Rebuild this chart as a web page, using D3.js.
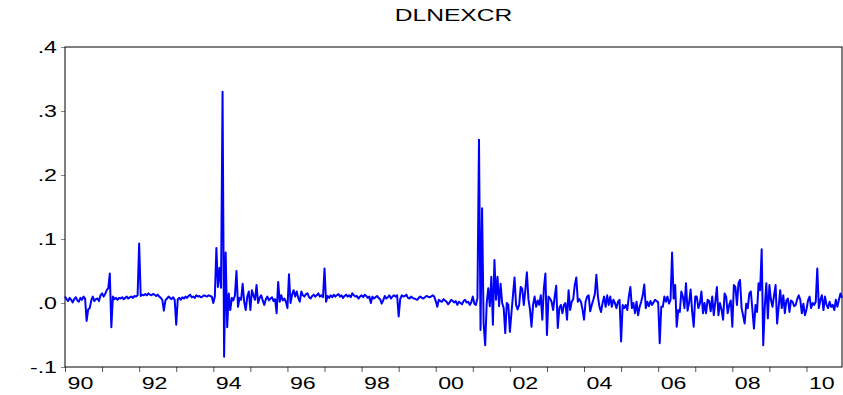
<!DOCTYPE html>
<html>
<head>
<meta charset="utf-8">
<script src="https://cdn.jsdelivr.net/npm/d3@7"></script>
<style>
  body { margin: 0; background: #fff; }
  text { font-family: Arial, "Liberation Sans", sans-serif; fill: #000; }
</style>
</head>
<body>
<div id="chart"></div>
<script>
// two observations per month, one row per year
const startYear = 1990;
const perYear = 24;
const dln1990s = [
  0.010, 0.006, 0.003, 0.008, 0.005, 0.001, 0.006, 0.009, 0.004, 0.002, 0.008, 0.005, 0.010, 0.007, -0.028, -0.010, -0.008, 0.004, 0.010, 0.003, 0.006, 0.007, 0.003, 0.012,
  0.015, 0.010, 0.014, 0.020, 0.023, 0.046, -0.038, 0.010, 0.006, 0.008, 0.005, 0.008, 0.007, 0.009, 0.006, 0.008, 0.010, 0.007, 0.009, 0.010, 0.008, 0.011, 0.010, 0.012,
  0.093, 0.011, 0.013, 0.012, 0.014, 0.012, 0.015, 0.013, 0.012, 0.014, 0.013, 0.011, 0.013, 0.010, 0.008, 0.005, -0.012, 0.004, 0.007, 0.010, 0.008, 0.006, 0.009, 0.005,
  -0.034, 0.006, 0.008, 0.005, 0.009, 0.007, 0.010, 0.008, 0.011, 0.013, 0.009, 0.010, 0.008, 0.012, 0.010, 0.011, 0.009, 0.010, 0.012, 0.011, 0.010, 0.012, 0.011, 0.010,
  0.000, 0.010, 0.086, 0.025, 0.055, 0.024, 0.330, -0.084, 0.079, -0.038, 0.015, -0.011, 0.008, 0.004, 0.012, 0.050, -0.006, 0.008, 0.005, 0.030, 0.002, -0.011, 0.010, 0.018,
  -0.011, 0.020, 0.012, 0.005, 0.028, 0.000, 0.008, 0.012, 0.004, -0.003, 0.006, 0.010, 0.004, 0.007, 0.009, 0.003, 0.006, -0.016, 0.033, 0.002, 0.012, 0.004, 0.007, 0.002,
  -0.008, 0.045, 0.000, 0.013, 0.020, 0.010, 0.018, 0.008, 0.002, 0.018, 0.012, 0.010, 0.014, 0.015, 0.009, 0.007, 0.011, 0.013, 0.010, 0.012, 0.015, 0.010, 0.012, 0.009,
  0.054, 0.002, 0.011, 0.008, 0.012, 0.009, 0.013, 0.010, 0.012, 0.014, 0.010, 0.012, 0.008, 0.011, 0.013, 0.010, 0.012, 0.009, 0.015, 0.012, 0.010, 0.011, 0.007, 0.010,
  0.012, 0.009, 0.013, 0.011, 0.008, 0.010, 0.000, 0.010, 0.007, 0.009, 0.011, 0.008, 0.006, -0.001, 0.004, 0.011, 0.007, 0.009, 0.012, 0.007, 0.010, 0.012, 0.010, 0.012,
  -0.021, 0.006, 0.012, 0.010, 0.011, 0.013, 0.008, 0.007, 0.010, 0.008, 0.007, 0.006, 0.005, 0.008, 0.010, 0.008, 0.007, 0.009, 0.011, 0.010, 0.009, 0.010, 0.012, 0.010
];
const dln2000s = [
  0.003, -0.006, 0.005, 0.003, 0.002, 0.006, 0.004, 0.002, -0.002, 0.001, 0.005, 0.003, 0.001, 0.003, -0.003, 0.002, 0.000, -0.002, 0.003, 0.005, 0.001, 0.002, -0.003, 0.001,
  0.010, -0.001, -0.003, 0.008, 0.255, -0.042, 0.148, -0.032, -0.066, 0.000, 0.023, -0.005, 0.041, -0.034, 0.067, 0.005, 0.041, -0.005, 0.030, 0.000, -0.008, -0.047, 0.000, -0.003,
  -0.045, -0.016, 0.012, 0.040, -0.003, -0.010, -0.003, 0.025, 0.022, -0.003, 0.020, 0.048, 0.006, -0.010, -0.037, -0.003, 0.010, -0.006, 0.004, -0.003, 0.012, -0.026, 0.023, 0.046,
  -0.050, 0.010, 0.007, 0.002, -0.011, 0.010, 0.027, -0.039, -0.008, -0.003, -0.016, -0.003, 0.000, -0.026, 0.020, -0.011, 0.002, 0.006, 0.028, 0.040, 0.002, 0.006, 0.002, -0.010,
  -0.026, 0.002, 0.010, 0.012, -0.013, -0.003, 0.005, 0.014, 0.044, 0.010, -0.006, -0.014, 0.000, 0.010, -0.006, 0.012, -0.003, 0.010, -0.006, 0.005, 0.000, -0.008, 0.002, 0.005,
  -0.060, -0.003, -0.008, -0.003, -0.011, 0.010, 0.025, -0.008, 0.000, -0.016, 0.002, -0.019, -0.006, 0.002, 0.012, 0.029, -0.008, 0.002, -0.005, 0.003, -0.003, 0.001, 0.005, 0.003,
  0.001, -0.063, -0.006, -0.006, 0.010, 0.002, 0.010, -0.001, 0.005, 0.079, 0.007, 0.028, -0.037, -0.011, -0.014, 0.018, 0.010, -0.008, 0.031, -0.012, 0.000, 0.021, -0.013, -0.037,
  0.010, 0.010, -0.008, -0.001, 0.018, -0.016, 0.000, -0.016, 0.005, 0.003, -0.013, 0.010, -0.019, 0.002, 0.025, -0.019, 0.000, -0.010, -0.026, 0.015, 0.010, -0.016, -0.003, 0.004,
  -0.037, 0.028, 0.025, -0.003, 0.031, 0.036, -0.008, -0.020, -0.032, -0.001, -0.008, 0.015, 0.018, -0.011, -0.040, -0.003, -0.014, 0.031, 0.020, 0.084, -0.066, -0.006, 0.031, -0.024,
  0.028, 0.005, -0.006, 0.012, 0.028, -0.032, -0.006, 0.020, -0.008, 0.012, -0.016, 0.004, 0.007, -0.014, 0.004, 0.002, -0.005, -0.003, 0.006, 0.012, 0.005, -0.016, -0.001, -0.019,
  -0.010, 0.004, 0.010, -0.008, 0.000, -0.003, 0.002, 0.054, -0.008, 0.005, 0.012, -0.011, 0.010, -0.003, -0.008, 0.002, -0.006, -0.003, -0.011, 0.005, -0.006, 0.005, 0.015, 0.008
];
const dlnexcr = dln1990s.concat(dln2000s);

const yTicks = [-0.1, 0, 0.1, 0.2, 0.3, 0.4];
const yTickLabels = ['-.1', '.0', '.1', '.2', '.3', '.4'];
const yearTicks = d3.range(1990, 2011);
const labelYears = [1990, 1992, 1994, 1996, 1998, 2000, 2002, 2004, 2006, 2008, 2010];

const W = 843, H = 395;
const margin = { top: 47, right: 1, bottom: 28, left: 65 };
const stretch = 1.45; // text in the picture is wider than plain Arial

const svg = d3.select('#chart').append('svg')
  .attr('width', W)
  .attr('height', H);

const x = d3.scaleLinear()
  .domain([startYear, startYear + (dlnexcr.length - 1) / perYear])
  .range([margin.left, W - margin.right]);

const y = d3.scaleLinear()
  .domain([-0.1, 0.4])
  .range([H - margin.bottom, margin.top]);

// title
svg.append('text')
  .attr('transform', `translate(${(margin.left + W - margin.right) / 2},21) scale(${stretch},1)`)
  .attr('text-anchor', 'middle')
  .style('font-size', '17px')
  .text('DLNEXCR');

// y axis
const yAxis = svg.append('g')
  .attr('transform', `translate(${margin.left},0)`)
  .call(d3.axisLeft(y).tickValues(yTicks).tickSize(4).tickSizeOuter(0)
    .tickFormat((d, i) => yTickLabels[i]));
yAxis.select('.domain').remove();
yAxis.selectAll('.tick line').attr('stroke', '#888');
yAxis.selectAll('.tick text')
  .attr('x', null).attr('dy', '0.36em')
  .attr('transform', `translate(-8,0) scale(${stretch},1)`)
  .style('font-size', '16px');

// x axis
const xAxis = svg.append('g')
  .attr('transform', `translate(0,${H - margin.bottom})`)
  .call(d3.axisBottom(x).tickValues(yearTicks).tickSize(5).tickSizeOuter(0)
    .tickFormat(d => labelYears.includes(d) ? String(d).slice(2) : ''));
xAxis.select('.domain').remove();
xAxis.selectAll('.tick line').attr('stroke', '#555');
xAxis.selectAll('.tick text')
  .attr('y', null).attr('dy', null)
  .attr('text-anchor', 'start')
  .attr('transform', `translate(2,22) scale(${stretch},1)`)
  .style('font-size', '16px');

// frame
svg.append('rect')
  .attr('x', margin.left)
  .attr('y', margin.top)
  .attr('width', W - margin.right - margin.left)
  .attr('height', H - margin.bottom - margin.top)
  .attr('fill', 'none')
  .attr('stroke', '#000')
  .attr('stroke-width', 1);

// series
const line = d3.line()
  .x((d, i) => x(startYear + i / perYear))
  .y(d => y(d));

svg.append('path')
  .datum(dlnexcr)
  .attr('fill', 'none')
  .attr('stroke', '#0000ff')
  .attr('stroke-width', 2)
  .attr('stroke-linejoin', 'round')
  .attr('d', line);
</script>
</body>
</html>
